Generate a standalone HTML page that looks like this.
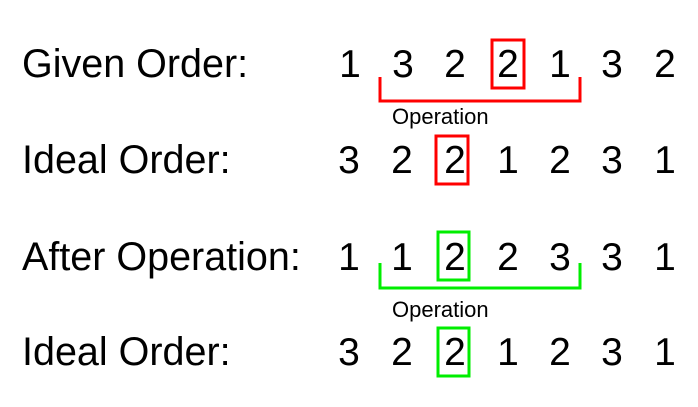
<!DOCTYPE html>
<html><head><meta charset="utf-8"><style>
html,body{margin:0;padding:0;background:#fff;width:698px;height:407px;overflow:hidden}
text{font-family:"Liberation Sans",Arial,sans-serif;fill:#000}
</style></head><body>
<svg width="698" height="407" viewBox="0 0 698 407" xmlns="http://www.w3.org/2000/svg">
<g font-size="39.5">
<text x="22" y="77">Given Order:</text>
<text x="22" y="173">Ideal Order:</text>
<text x="22" y="270">After Operation:</text>
<text x="22" y="365">Ideal Order:</text>
</g>
<g font-size="39" text-anchor="middle">
<text x="350" y="77">1</text><text x="403" y="77">3</text><text x="455" y="77">2</text><text x="508" y="77">2</text><text x="560" y="77">1</text><text x="612" y="77">3</text><text x="665" y="77">2</text>
<text x="349" y="173">3</text><text x="402" y="173">2</text><text x="455" y="173">2</text><text x="508" y="173">1</text><text x="560" y="173">2</text><text x="612" y="173">3</text><text x="665" y="173">1</text>
<text x="349" y="270">1</text><text x="402" y="270">1</text><text x="455" y="270">2</text><text x="508" y="270">2</text><text x="560" y="270">3</text><text x="612" y="270">3</text><text x="665" y="270">1</text>
<text x="349" y="365">3</text><text x="402" y="365">2</text><text x="455" y="365">2</text><text x="508" y="365">1</text><text x="560" y="365">2</text><text x="612" y="365">3</text><text x="665" y="365">1</text>
</g>
<g font-size="22">
<text x="392" y="124">Operation</text>
<text x="392" y="317">Operation</text>
</g>
<g fill="none" stroke-width="3">
<rect x="492" y="40" width="32" height="48" stroke="#ff0000"/>
<rect x="436" y="136" width="32" height="48" stroke="#ff0000"/>
<polyline points="380,77 380,101 580,101 580,77" stroke="#ff0000"/>
<rect x="438" y="232" width="31" height="48" stroke="#00ee00"/>
<rect x="438" y="328" width="31" height="48" stroke="#00ee00"/>
<polyline points="380,263 380,288 580,288 580,263" stroke="#00ee00"/>
</g>
</svg>
</body></html>
